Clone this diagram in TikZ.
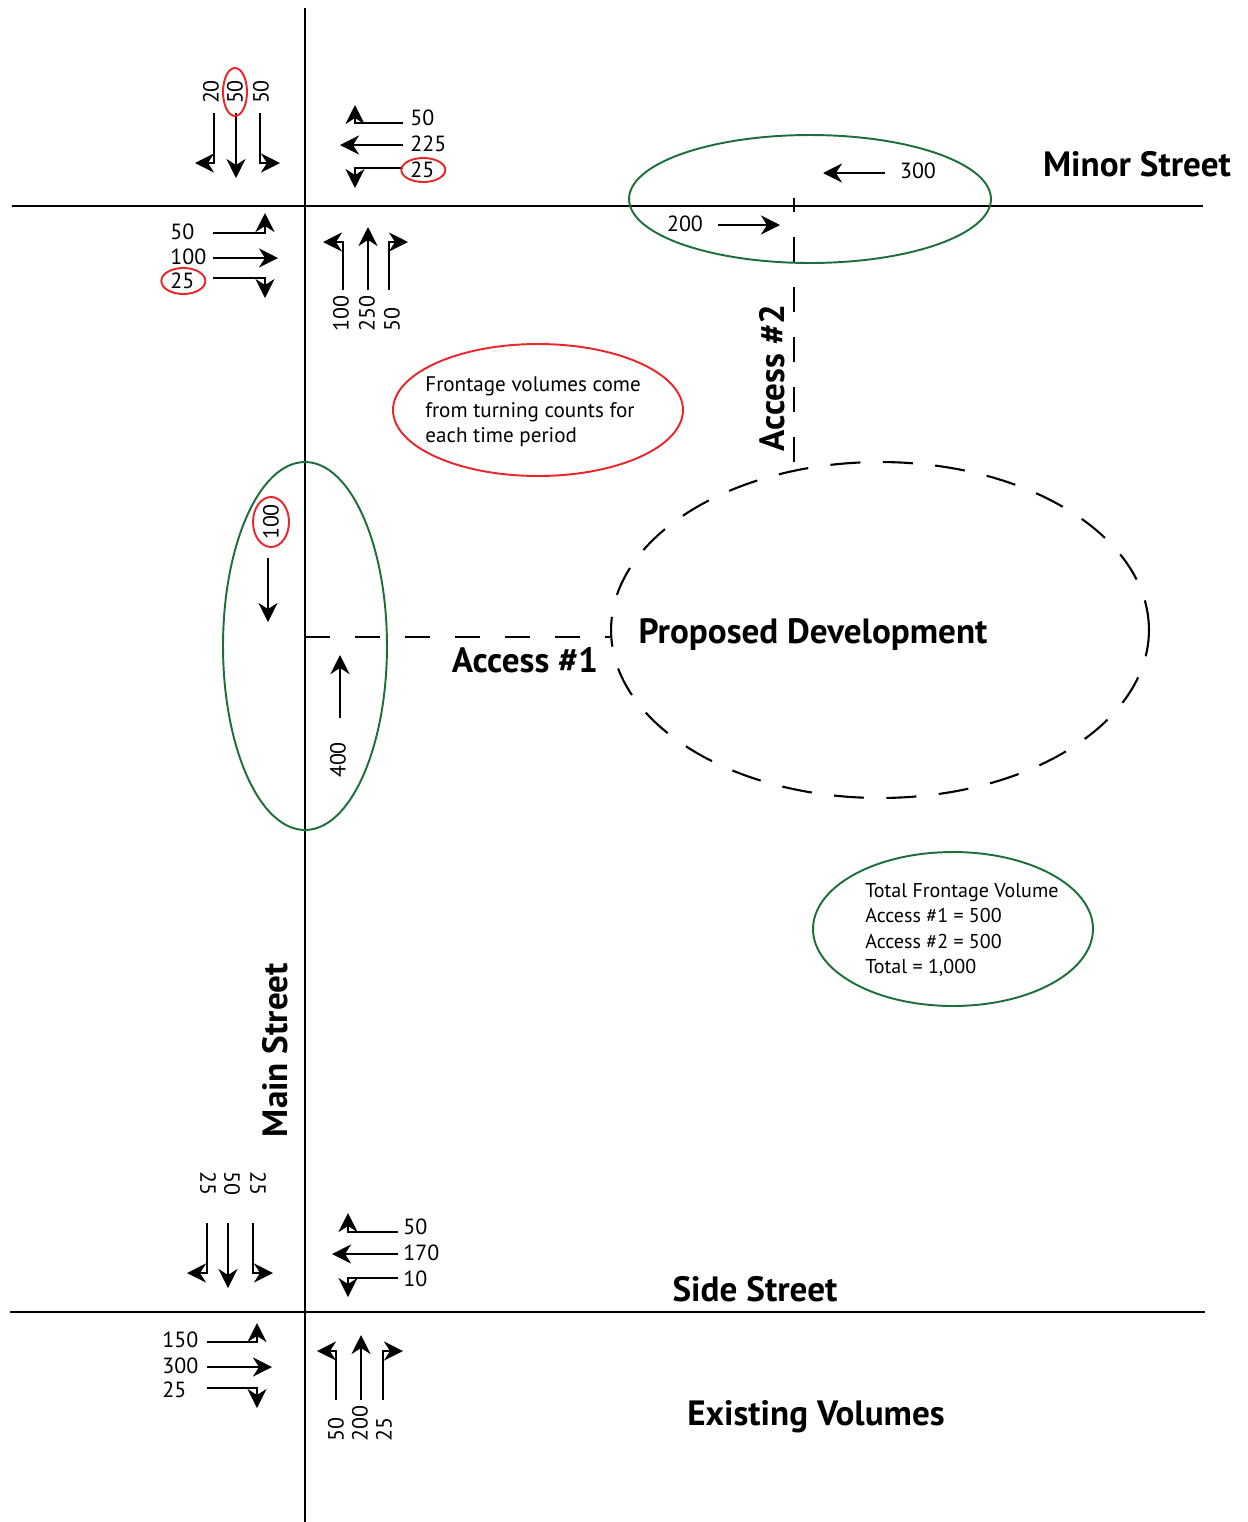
\documentclass[tikz,border=0pt]{standalone}
\usepackage{fontspec}
\setmainfont{PT Sans}
\usetikzlibrary{arrows.meta,shapes.geometric,positioning,calc}
\definecolor{zonegreen}{RGB}{30,110,60}
\definecolor{notered}{RGB}{232,38,43}
\tikzstyle{road}=[draw,line width=1.4pt]
\tikzstyle{mvt}=[draw,line width=1.25pt,-{Stealth[length=3.8mm,width=3.8mm,inset=1.2mm]}]
\tikzstyle{vol}=[font=\fontsize{12.5}{14}\selectfont,inner sep=0pt]
\tikzstyle{streetname}=[font=\fontsize{20}{22}\selectfont\bfseries,inner sep=0pt]
\tikzstyle{notetext}=[font=\fontsize{12}{14.6}\selectfont,align=left,inner sep=0pt]
\tikzstyle{totaltext}=[font=\fontsize{11.4}{14.5}\selectfont,align=left,inner sep=0pt]
\tikzstyle{zone}=[ellipse,draw=zonegreen,line width=1.1pt,inner sep=0pt]
\tikzstyle{noteoval}=[ellipse,draw=notered,line width=1.1pt,inner sep=0pt]
\tikzstyle{redring}=[draw=notered,line width=1.1pt]
\tikzstyle{accessline}=[draw,line width=1.2pt,dash pattern=on 0.5cm off 0.5cm]
\tikzstyle{devline}=[draw,line width=1.2pt,dash pattern=on 0.6cm off 0.45cm]

\begin{document}
\begin{tikzpicture}[x=0.02cm,y=-0.02cm]
    \useasboundingbox (0,0) rectangle (1248,1522);

    % streets
    \coordinate (mainN) at (305,8);
    \coordinate (mainS) at (305,1522);
    \coordinate (minorW) at (12,206);
    \coordinate (minorE) at (1203,206);
    \coordinate (sideW) at (10,1312);
    \coordinate (sideE) at (1205,1312);
    \path[road] (mainN) -- (mainS);
    \path[road] (minorW) -- (minorE);
    \path[road] (sideW) -- (sideE);

    \node[streetname] (minorname) at (1137,164) {Minor Street};
    \node[streetname, rotate=90] (mainname) at (275,1050) {Main Street};
    \node[streetname] (sidename) at (755,1289) {Side Street};
    \node[streetname] (existing) at (816,1417) {Existing Volumes};

    % minor street intersection
    \foreach \pos/\name/\label in {{(211,92)/tsbL/20}, {(235,92)/tsbT/50}, {(261,92)/tsbR/50}}
        \node[vol, rotate=90] (\name) at \pos {\label};
    \foreach \pos/\name/\label in {{(410,118)/twbR/50}, {(410,144)/twbT/225}, {(410,170)/twbL/25}}
        \node[vol, anchor=west] (\name) at \pos {\label};
    \foreach \pos/\name/\label in {{(170,232)/tebL/50}, {(170,257)/tebT/100}, {(170,281)/tebR/25}}
        \node[vol, anchor=west] (\name) at \pos {\label};
    \foreach \pos/\name/\label in {{(341,332)/tnbL/100}, {(367,332)/tnbT/250}, {(392,332)/tnbR/50}}
        \node[vol, rotate=90, anchor=west] (\name) at \pos {\label};

    \path[mvt] (214,113) -- (214,163) -- (195,163);
    \path[mvt] (236,113) -- (236,178);
    \path[mvt] (260,113) -- (260,163) -- (280,163);
    \path[mvt] (403,123) -- (355,123) -- (355,105);
    \path[mvt] (403,145) -- (340,145);
    \path[mvt] (403,168) -- (355,168) -- (355,188);
    \path[mvt] (213,233) -- (265,233) -- (265,213);
    \path[mvt] (213,258) -- (278,258);
    \path[mvt] (213,278) -- (265,278) -- (265,298);
    \path[mvt] (343,290) -- (343,242) -- (323,242);
    \path[mvt] (368,290) -- (368,227);
    \path[mvt] (389,290) -- (389,242) -- (408,242);

    \draw[redring] (tsbT) ellipse [x radius=12, y radius=24];
    \draw[redring] ($(twbL)+(1,0)$) ellipse [x radius=22, y radius=12];
    \draw[redring] ($(tebR)+(1,0)$) ellipse [x radius=22, y radius=13];

    % side street intersection
    \foreach \pos/\name/\label in {{(208,1183)/bsbR/25}, {(232,1183)/bsbT/50}, {(258,1183)/bsbL/25}}
        \node[vol, rotate=-90] (\name) at \pos {\label};
    \foreach \pos/\name/\label in {{(403,1227)/bwbR/50}, {(403,1253)/bwbT/170}, {(403,1279)/bwbL/10}}
        \node[vol, anchor=west] (\name) at \pos {\label};
    \foreach \pos/\name/\label in {{(162,1340)/bebL/150}, {(162,1366)/bebT/300}, {(162,1390)/bebR/25}}
        \node[vol, anchor=west] (\name) at \pos {\label};
    \foreach \pos/\name/\label in {{(336,1442)/bnbL/50}, {(360,1442)/bnbT/200}, {(384,1442)/bnbR/25}}
        \node[vol, rotate=90, anchor=west] (\name) at \pos {\label};

    \path[mvt] (207,1223) -- (207,1273) -- (187,1273);
    \path[mvt] (228,1223) -- (228,1288);
    \path[mvt] (253,1223) -- (253,1273) -- (273,1273);
    \path[mvt] (398,1232) -- (348,1232) -- (348,1213);
    \path[mvt] (398,1254) -- (332,1254);
    \path[mvt] (398,1278) -- (348,1278) -- (348,1297);
    \path[mvt] (207,1342) -- (257,1342) -- (257,1323);
    \path[mvt] (207,1367) -- (272,1367);
    \path[mvt] (207,1388) -- (257,1388) -- (257,1408);
    \path[mvt] (336,1400) -- (336,1351) -- (317,1351);
    \path[mvt] (361,1400) -- (361,1335);
    \path[mvt] (383,1400) -- (383,1351) -- (403,1351);

    % development and accesses
    \node[devline, ellipse, minimum width=10.76cm, minimum height=6.72cm] (dev) at (880,630) {};
    \node[streetname] (devname) at (813,635) {Proposed Development};

    \coordinate (acc1) at (305,637);
    \path[accessline] (acc1) -- (acc1 -| dev.west);
    \node[streetname] (acc1name) at (525,660) {Access \#1};

    \coordinate (acc2) at (794,198);
    \coordinate (acc2end) at (794,471);
    \path[accessline, dash phase=0.22cm] (acc2) -- (acc2end);
    \node[streetname, rotate=90] (acc2name) at (772,378) {Access \#2};

    % frontage volumes
    \node[zone, minimum width=3.28cm, minimum height=7.36cm] (zone1) at (305,646) {};
    \node[vol, rotate=90] (acc1sb) at (271,522) {100};
    \node[vol, rotate=90] (acc1nb) at (338,760) {400};
    \draw[redring] (acc1sb) ellipse [x radius=18, y radius=25];
    \path[mvt] (268,558) -- (268,622);
    \path[mvt] (340,718) -- (340,655);

    \node[zone, minimum width=7.24cm, minimum height=2.56cm] (zone2) at (810,199) {};
    \node[vol] (acc2wb) at (918,171) {300};
    \node[vol] (acc2eb) at (685,224) {200};
    \path[mvt] (885,173) -- (823,173);
    \path[mvt] (718,225) -- (780,225);

    % notes
    \node[noteoval, minimum width=5.8cm, minimum height=2.64cm] (noteoval) at (538,410) {};
    \node[notetext, anchor=west] (note) at (425,412) {Frontage volumes come\\from turning counts for\\each time period};

    \node[zone, minimum width=5.6cm, minimum height=3.08cm] (totaloval) at (953,929) {};
    \node[totaltext, anchor=west] (total) at (865,930) {Total Frontage Volume\\Access \#1 = 500\\Access \#2 = 500\\Total = 1,000};

\end{tikzpicture}
\end{document}
